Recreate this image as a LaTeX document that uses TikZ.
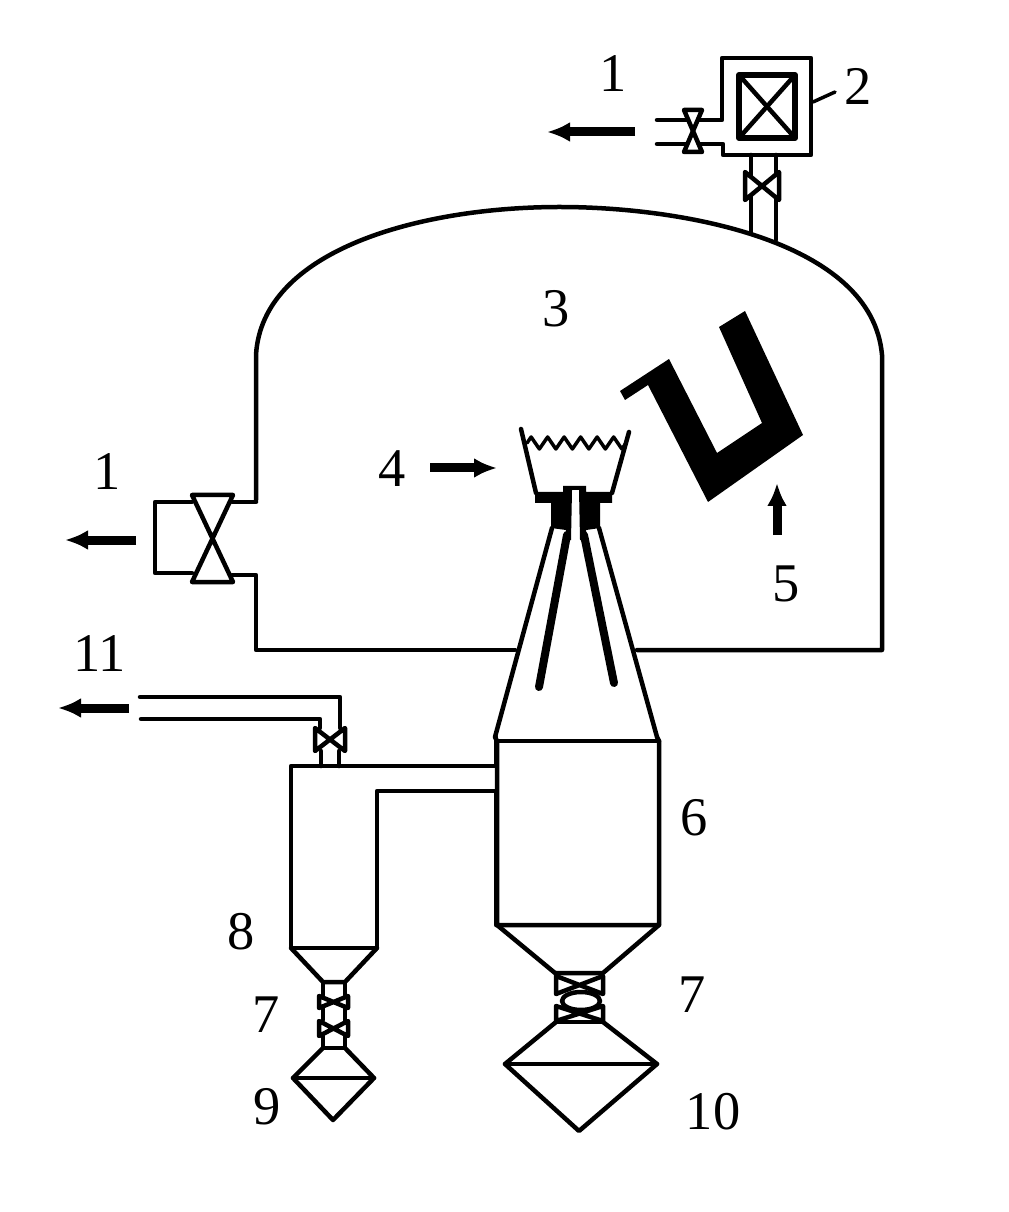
\documentclass[tikz,border=0pt]{standalone}
\usepackage{fontspec}
\setmainfont{Liberation Serif}
\usetikzlibrary{arrows.meta}
\usetikzlibrary{decorations.pathmorphing}
\tikzset{
  pipe/.style={line width=.45mm,line join=round,line cap=round},
  thin pipe/.style={line width=.35mm,line join=round,line cap=round},
  flow/.style={line width=.9mm,-{Latex[length=2.3mm,width=2mm]}},
  lab/.style={font=\fontsize{15.5}{18}\selectfont,inner sep=0pt},
}

\begin{document}
\begin{tikzpicture}[x=.1mm,y=-.1mm]%
        \useasboundingbox (0,0) rectangle (1008,1212);%%
        % chamber
        \draw[pipe] (256,500)--(256,355) .. controls (262,250) and (420,207) .. (560,207) .. controls (680,207) and (872,240) .. (882,355)--(882,650)--(637,650); %%
        \draw[pipe] (515,650)--(256,650)--(256,575)--(232,575); %%
        \draw[pipe] (256,502)--(232,502); %%
        % pump on the left
        \draw[pipe] (192,502)--(155,502)--(155,573)--(192,573); %%
        \draw[pipe] (192,495)--(233,495)--(192,582)--(233,582)--cycle; %%
        % pump on the top
        \draw[pipe] (657,120)--(722,120)--(722,58)--(811,58)--(811,155)--(723,155)--(723,144)--(657,144); %%
        \draw[line width=.6mm,line join=round] (739,75) rectangle (795,138); %%
        \draw[pipe] (739,75)--(795,138); %%
        \draw[pipe] (795,75)--(739,138); %%
        \draw[pipe,fill=white] (684,110)--(702,110)--(684,152)--(702,152)--cycle; %%
        \draw[pipe] (751,155)--(751,232); %%
        \draw[pipe] (776,155)--(776,240); %%
        \draw[pipe,fill=white] (745,172)--(745,200)--(779,172)--(779,200)--cycle; %%
        \draw[thin pipe] (813,102)--(835,92); %%
        % ladle
        \fill (719,327)--(745,311)--(803,435)--(708,502)--(648,385)--(625,400)--(620,391)--(669,359)--(717,453)--(762,423)--cycle; %%
        % tundish
        \draw[pipe] (521,429)--(536,493); %%
        \draw[pipe] (629,432)--(612,493); %%
        \draw[thin pipe,decorate,decoration={zigzag,segment length=1.65mm,amplitude=.6mm}] (527,443)--(626,443); %%
        \fill (535,492)--(563,492)--(563,486)--(586,486)--(586,492)--(612,492)--(612,503)--(600,503)--(600,528)--(586,530)--(586,540)--(583,540)--(580,540)--(579,490)--(572,490)--(571,540)--(565,540)--(566,530)--(551,528)--(551,503)--(535,503)--cycle; %%
        \draw[line width=.8mm,line cap=round] (567,535)--(539,687); %%
        \draw[line width=.8mm,line cap=round] (584,535)--(614,683); %%
        % large filter
        \draw[pipe] (552,528)--(495,737)--(497,741)--(497,925)--(659,925)--(659,741)--(657,737)--(599,528); %%
        \draw[pipe] (497,741)--(659,741); %%
        \draw[pipe] (497,925)--(555,973)--(603,973)--(659,925); %%
        \draw[pipe] (556,973)--(556,994)--(603,976)--(603,994)--(556,976); %%
        \draw[pipe] (581,1001) ellipse [x radius=19,y radius=9]; %%
        \draw[pipe] (556,1022)--(556,1006)--(603,1021)--(603,1006)--(556,1021); %%
        \draw[pipe] (556,1022)--(603,1022); %%
        \draw[pipe] (556,1022)--(505,1064)--(579,1131)--(657,1064)--(603,1022); %%
        \draw[pipe] (505,1064)--(657,1064); %%
        % small filter
        \draw[pipe] (339,766)--(291,766)--(291,948)--(377,948)--(377,791)--(496,791)--(496,925); %%
        \draw[pipe] (339,766)--(496,766)--(496,737); %%
        \draw[pipe] (291,948)--(323,982)--(345,982)--(377,948); %%
        \draw[pipe] (323,982)--(323,996); %%
        \draw[pipe] (345,982)--(345,996); %%
        \draw[pipe] (319,996)--(319,1008)--(348,996)--(348,1008)--cycle; %%
        \draw[pipe] (323,1008)--(323,1020); %%
        \draw[pipe] (345,1008)--(345,1020); %%
        \draw[pipe] (319,1021)--(319,1036)--(348,1021)--(348,1036)--cycle; %%
        \draw[pipe] (323,1036)--(323,1048)--(345,1048)--(345,1036); %%
        \draw[pipe] (323,1048)--(293,1078)--(333,1120)--(374,1078)--(345,1048); %%
        \draw[pipe] (293,1078)--(374,1078); %%
        % outlet 11
        \draw[pipe] (140,697)--(340,697)--(340,728); %%
        \draw[pipe] (141,719)--(320,719)--(320,728); %%
        \draw[pipe] (315,728)--(315,751)--(345,728)--(345,751)--cycle; %%
        \draw[pipe] (321,751)--(321,766); %%
        \draw[pipe] (339,751)--(339,766); %%
        % arrows
        \coordinate (p1a) at (635,132); %%
        \coordinate (q1a) at (547,132); %%
        \coordinate (p1b) at (136,540); %%
        \coordinate (q1b) at (65,540); %%
        \coordinate (p4) at (430,468); %%
        \coordinate (q4) at (497,468); %%
        \coordinate (p5) at (777,535); %%
        \coordinate (q5) at (777,483); %%
        \coordinate (p11) at (129,708); %%
        \coordinate (q11) at (58,708); %%
        \draw[flow] (p1a)--(q1a); %%
        \draw[flow] (p1b)--(q1b); %%
        \draw[flow] (p4)--(q4); %%
        \draw[flow] (p5)--(q5); %%
        \draw[flow] (p11)--(q11); %%
        % labels
        \node[lab] (n1a) at (613,74)  {1}; %%
        \node[lab] (n2) at (858,86)  {2}; %%
        \node[lab] (n3) at (556,309)  {3}; %%
        \node[lab] (n4) at (392,469)  {4}; %%
        \node[lab] (n1b) at (107,472)  {1}; %%
        \node[lab] (n5) at (786,584)  {5}; %%
        \node[lab] (n11) at (100,654)  {11}; %%
        \node[lab] (n6) at (694,818)  {6}; %%
        \node[lab] (n8) at (241,932)  {8}; %%
        \node[lab] (n7a) at (266,1015)  {7}; %%
        \node[lab] (n7b) at (692,995)  {7}; %%
        \node[lab] (n9) at (267,1107)  {9}; %%
        \node[lab] (n10) at (713,1112)  {10}; %%
\end{tikzpicture}
\end{document}
